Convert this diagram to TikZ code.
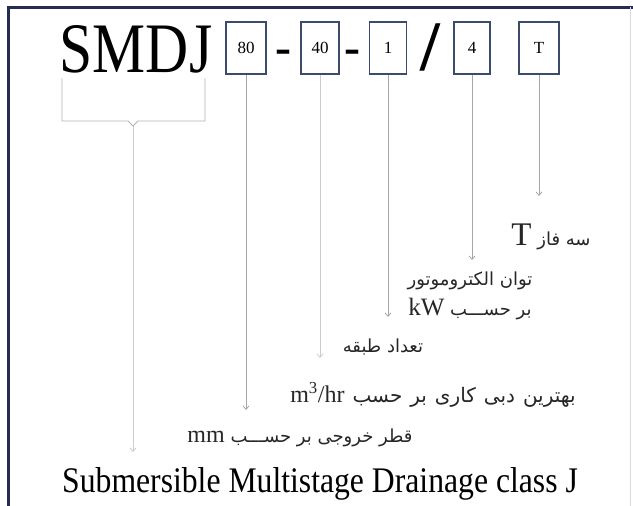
\documentclass[tikz,border=0pt]{standalone}
\usepackage{fontspec}
\usepackage{graphicx}
\setmainfont{Liberation Serif}
\newfontfamily\farsi[Script=Arabic]{DejaVu Sans}
\usetikzlibrary{arrows.meta}
\TeXXeTstate=1
\definecolor{cadre}{HTML}{262B55}
\definecolor{boite}{HTML}{3C4A6E}
\newcommand\enlat[2]{{\rmfamily\fontsize{#1}{#1}\selectfont #2}}
\tikzset{
  code/.style={draw=boite, line width=1.2pt, minimum height=52pt, inner sep=0pt,
    font=\fontsize{17}{17}\selectfont},
  fleche/.style={draw=gray!70, line width=0.8pt, -{Straight Barb[length=3.5pt,width=6pt]}},
  pale/.style={fleche, draw=gray!40},
  legende/.style={font=\farsi\fontsize{18}{20}\selectfont, inner sep=0pt, text=black!85},
}
\begin{document}
\begin{tikzpicture}[x=1pt,y=-1pt]
\useasboundingbox (0,0) rectangle (633,506);

% Cadre
\draw[cadre, line width=3pt] (8,506) -- (8,7) -- (633,7);
\draw[gray!30, line width=0.8pt] (630,7) -- (630,506);

% Code de la pompe
\node[anchor=base, inner sep=0pt] (smdj) at (136,72) {\fontsize{71}{71}\selectfont\scalebox{0.84}[1]{SMDJ}};
\node[code, minimum width=40pt] (b80) at (246,48) {80};
\node (tiret1) at (283,57) {\fontsize{48}{48}\selectfont\bfseries -};
\node[code, minimum width=38pt] (b40) at (320,48) {40};
\node (tiret2) at (352,57) {\fontsize{48}{48}\selectfont\bfseries -};
\node[code, minimum width=37pt] (b1) at (388,48) {1};
\node (barre) at (430,47) {\fontsize{71}{71}\selectfont\bfseries /};
\node[code, minimum width=36pt] (b4) at (472,48) {4};
\node[code, minimum width=40pt] (bT) at (539,48) {T};

% Accolade sous SMDJ
\draw[gray!60, line width=0.8pt] (62,78) -- (62,121) -- (128,121) -- (133,126) -- (138,121) -- (205,121) -- (205,78);
\coordinate (pointe) at (133,126);

% Bouts des fleches
\coordinate (f80) at (246,410);
\coordinate (f40) at (320,358);
\coordinate (f1) at (388,317);
\coordinate (f4) at (472,260);
\coordinate (fT) at (539,196);
\coordinate (fsmdj) at (133,452);

\draw[fleche] (b80.south) -- (f80);
\draw[pale] (b40.south) -- (f40);
\draw[fleche] (b1.south) -- (f1);
\draw[fleche] (b4.south) -- (f4);
\draw[fleche] (bT.south) -- (fT);
\draw[pale] (pointe) -- (fsmdj);

% Legendes
\node[legende] (lT) at (551,237) {\beginR سه فاز \enlat{33}{T}\endR};
\node[legende, align=center, font=\farsi\fontsize{18}{30}\selectfont] (l4) at (470,296)
  {\beginR توان الکتروموتور\endR\\\beginR بر حســـب \beginL\enlat{25}{kW}\endL\endR};
\node[legende] (l1) at (383,347) {\beginR تعداد طبقه\endR};
\node[legende, font=\farsi\fontsize{20}{22}\selectfont] (l40) at (433,395)
  {\spaceskip=8pt\beginR بهترین دبی کاری بر حسب \beginL\enlat{24}{m\textsuperscript{3}/hr}\endL\endR};
\node[legende] (l80) at (300,438) {\beginR قطر خروجی بر حســـب \beginL\enlat{24}{mm}\endL\endR};

\node[anchor=base, inner sep=0pt] (titre) at (320,492) {\fontsize{36}{36}\selectfont\scalebox{0.88}[1]{Submersible Multistage Drainage class J}};

\end{tikzpicture}
\end{document}
